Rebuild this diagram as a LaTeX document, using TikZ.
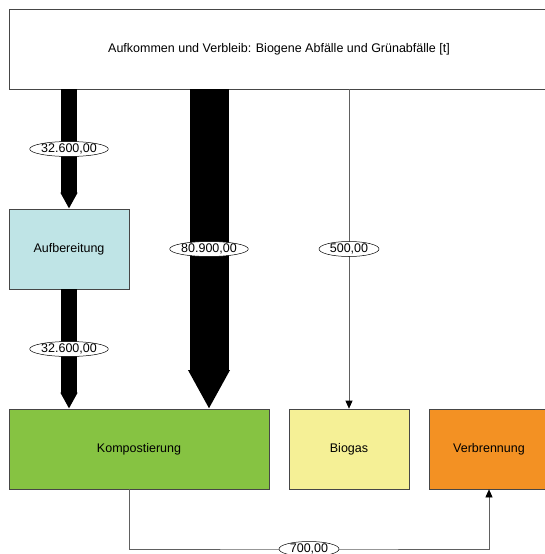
\documentclass[tikz,border=0pt]{standalone}
\usepackage{fontspec}
\setmainfont{Liberation Sans}
\usetikzlibrary{arrows.meta,shapes.geometric}
\definecolor{aufbcol}{HTML}{BFE4E6}
\definecolor{kompcol}{HTML}{86C342}
\definecolor{biogcol}{HTML}{F5F096}
\definecolor{verbcol}{HTML}{F39123}
\begin{document}
\begin{tikzpicture}[x=1pt,y=-1pt,
  box/.style={draw=gray!55!black,line width=0.7pt,minimum width=120pt,minimum height=80pt,inner sep=0pt,font=\fontsize{12.5}{14}\selectfont},
  amount/.style={ellipse,draw=black,line width=0.5pt,fill=white,minimum width=78pt,minimum height=15pt,inner sep=0pt,font=\fontsize{12.5}{14}\selectfont},
  thickflow/.style={draw=black,line width=#1,-{Triangle[length=#1,width=#1]}},
  thinflow/.style={draw=gray!75!black,line width=0.7pt,-{Triangle[length=8pt,width=7pt,color=black]}}]
 \useasboundingbox (0,0) rectangle (545,554);
 % boxes
 \node[box,minimum width=540pt] (top) at (279,49) {Aufkommen und Verbleib: Biogene Abfälle und Grünabfälle [t]};
 \node[box,fill=aufbcol] (aufb) at (69,249) {Aufbereitung};
 \node[box,fill=kompcol,minimum width=260pt] (kompost) at (139,449) {Kompostierung};
 \node[box,fill=biogcol] (biogas) at (349,449) {Biogas};
 \node[box,fill=verbcol] (verbr) at (489,449) {Verbrennung};
 % flows
 \coordinate (bigin) at (209,89);
 \coordinate (bigout) at (209,409);
 \coordinate (low) at (309,549);
 \draw[thickflow=16pt] (top.south -| aufb.north) -- node[amount]{32.600,00} (aufb.north);
 \draw[thickflow=16pt] (aufb.south) -- node[amount]{32.600,00} (aufb.south |- kompost.north);
 \draw[thickflow=39pt] (bigin) -- node[amount]{80.900,00} (bigout);
 \draw[thinflow] (top.south -| biogas.north) -- node[amount,minimum width=60pt]{500,00} (biogas.north);
 \draw[thinflow] ([xshift=-10pt]kompost.south) |- (low) -| (verbr.south);
 \node[amount,minimum width=60pt] (lowlabel) at (low) {700,00};
\end{tikzpicture}
\end{document}
